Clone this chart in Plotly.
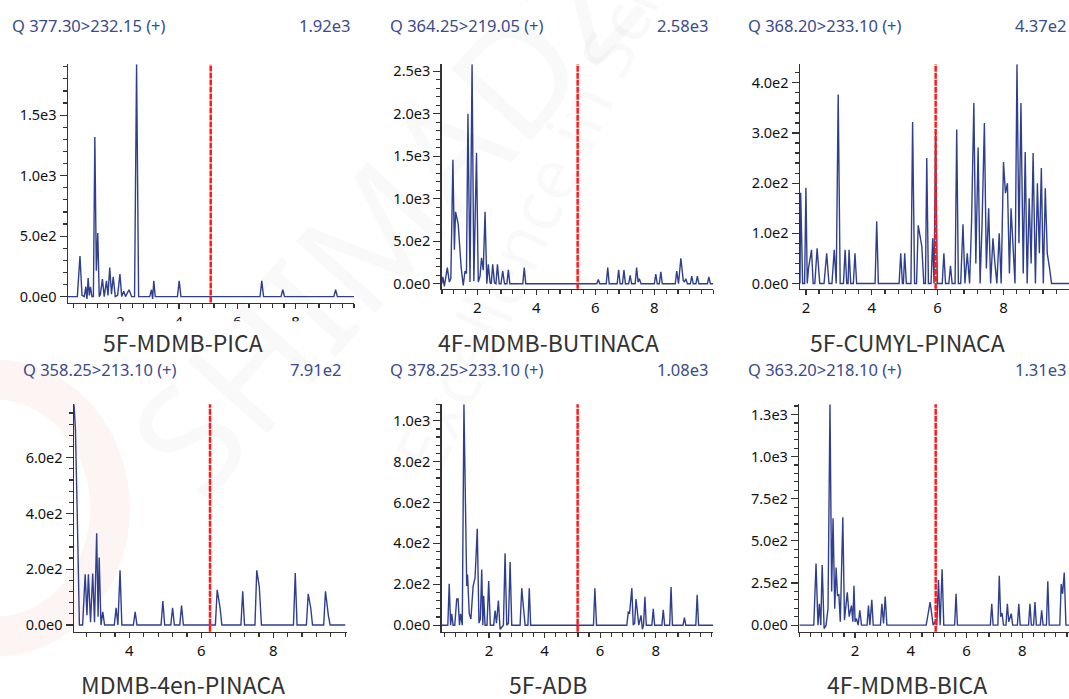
import plotly.graph_objects as go

# ---------------- data ----------------
names = ["5F-MDMB-PICA", "4F-MDMB-BUTINACA", "5F-CUMYL-PINACA",
         "MDMB-4en-PINACA", "5F-ADB", "4F-MDMB-BICA"]
transitions = ["Q 377.30>232.15 (+)", "Q 364.25>219.05 (+)", "Q 368.20>233.10 (+)",
               "Q 358.25>213.10 (+)", "Q 378.25>233.10 (+)", "Q 363.20>218.10 (+)"]
max_labels = ["1.92e3", "2.58e3", "4.37e2", "7.91e2", "1.08e3", "1.31e3"]
ret_times = [5.09, 5.40, 5.94, 6.24, 5.19, 4.89]

t1 = [0.20, 0.52, 0.61, 0.68, 0.76, 0.81, 0.85, 0.89, 0.93, 0.97, 1.02, 1.07, 1.12, 1.17, 1.22, 1.27,
      1.31, 1.38, 1.44, 1.52, 1.57, 1.63, 1.69, 1.75, 1.82, 1.90, 1.98, 2.04, 2.11, 2.17, 2.29, 2.38,
      2.48, 2.55, 2.62, 2.72, 3.00, 3.06, 3.10, 3.14, 3.19, 3.95, 4.01, 4.07, 6.78, 6.84, 6.90, 7.50,
      7.56, 7.62, 9.31, 9.37, 9.43, 10.0]
v1 = [0, 0, 336, 10, 0, 82, -20, 153, 10, 80, 0, 0, 1320, 213, 525, 0,
      20, 145, 0, 130, 10, 240, 20, 164, 0, 10, 186, 0, 45, 0, 57, 0,
      0, 1920, 0, 0, 0, 57, -20, 130, 0, 0, 130, 0, 0, 130, 0, 0,
      57, 0, 0, 57, 0, 0]

t2 = [0.79, 0.83, 0.88, 0.98, 1.05, 1.10, 1.17, 1.22, 1.26, 1.30, 1.35, 1.45, 1.52, 1.58, 1.63,
      1.68, 1.75, 1.82, 1.88, 1.97, 2.03, 2.09, 2.14, 2.20, 2.26, 2.32, 2.37, 2.43, 2.47, 2.52, 2.58,
      2.63, 2.68, 2.74, 2.80, 2.86, 2.92, 3.00, 3.05, 3.10, 3.54, 3.59, 3.64, 6.05, 6.10, 6.15, 6.37,
      6.42, 6.47, 6.74, 6.79, 6.84, 6.92, 6.97, 7.02, 7.13, 7.18, 7.23, 7.35, 7.40, 7.45, 7.49, 7.55,
      8.00, 8.05, 8.10, 8.17, 8.22, 8.27, 8.71, 8.76, 8.82, 8.90, 8.98, 9.02, 9.07, 9.12, 9.22, 9.27,
      9.32, 9.41, 9.46, 9.51, 9.80, 9.85, 9.90, 10.0]
v2 = [0, 80, -30, 190, 20, 60, 1458, 400, 845, 780, 700, 190, -20, 150, 120,
      2000, 20, 2580, 30, 1540, 20, 90, 305, 160, 845, 0, 228, 10, 0, 228, 10,
      0, 228, 0, 0, 150, 0, 0, 165, 0, 0, 190, 0, 0, 50, 0, 0,
      190, 0, 0, 165, 0, 0, 160, 0, 0, 100, 0, 0, 190, 20, 60, 0,
      0, 115, 0, 0, 140, 0, 0, 150, 0, 300, 40, 20, 60, 0, 0, 90,
      0, 0, 90, 0, 0, 80, 0, 0]

t3 = [1.82, 1.84, 1.90, 1.96, 2.00, 2.04, 2.08, 2.17, 2.22, 2.27, 2.34, 2.42, 2.55, 2.63, 2.70,
      2.79, 2.86, 2.92, 2.98, 3.04, 3.14, 3.19, 3.24, 3.28, 3.31, 3.36, 3.44, 3.49, 3.54, 4.10, 4.15,
      4.20, 4.83, 4.88, 4.93, 4.96, 5.00, 5.05, 5.19, 5.24, 5.30, 5.36, 5.41, 5.52, 5.58, 5.63, 5.67,
      5.72, 5.80, 5.85, 5.89, 5.94, 5.99, 6.14, 6.19, 6.24, 6.34, 6.39, 6.44, 6.53, 6.58, 6.63, 6.70,
      6.77, 6.83, 6.90, 6.97, 7.03, 7.10, 7.16, 7.23, 7.29, 7.35, 7.42, 7.48, 7.55, 7.61, 7.68, 7.74,
      7.80, 7.87, 7.93, 8.00, 8.06, 8.12, 8.18, 8.23, 8.29, 8.35, 8.41, 8.47, 8.53, 8.60, 8.66, 8.72,
      8.78, 8.84, 8.90, 8.97, 9.03, 9.09, 9.15, 9.21, 9.27, 9.33, 9.40, 9.46, 9.52, 9.99]
v3 = [0, 181, 0, 0, 191, 0, 31, 67, 0, 0, 70, 0, 0, 60, 0,
      0, 67, 0, 377, 0, 0, 67, 0, 0, 67, 0, 0, 60, 0, 0, 124,
      0, 0, 60, 0, 0, 60, 0, 0, 322, 0, 0, 116, 74, 0, 0, 250,
      0, 0, 90, 0, 300, 0, 0, 60, 0, 0, 35, 0, 0, 307, 0, 0,
      118, 0, 60, 0, 120, 360, 40, 271, 0, 120, 320, 30, 150, 0, 90, 40,
      0, 100, 0, 242, 180, 200, 20, 150, 60, 0, 437, 80, 360, 20, 262, 0,
      170, 40, 260, 0, 200, 60, 230, 0, 190, 60, 30, 0, 0, 0]

t4 = [2.46, 2.50, 2.55, 2.61, 2.70, 2.77, 2.82, 2.86, 2.92, 2.98, 3.03, 3.09, 3.13, 3.16, 3.21, 3.26,
      3.31, 3.58, 3.63, 3.68, 3.74, 3.79, 4.11, 4.16, 4.21, 4.88, 4.93, 4.98, 5.15, 5.20, 5.25, 5.40,
      5.45, 5.50, 6.39, 6.44, 6.52, 6.57, 7.10, 7.15, 7.20, 7.49, 7.54, 7.61, 7.67, 8.56, 8.61, 8.66,
      8.92, 8.97, 9.04, 9.09, 9.40, 9.45, 9.53, 9.58, 10.0]
v4 = [791, 700, 400, 0, 0, 182, 35, 182, 10, 185, 10, 329, 30, 242, 0, 47,
      0, 0, 62, 0, 196, 0, 0, 47, 0, 0, 86, 0, 0, 62, 0, 0,
      70, 0, 0, 126, 62, 0, 0, 121, 0, 0, 196, 138, 0, 0, 186, 0,
      0, 112, 62, 0, 0, 121, 35, 0, 0]

t5 = [0.30, 0.52, 0.57, 0.62, 0.66, 0.71, 0.77, 0.84, 0.89, 0.94, 0.98, 1.04, 1.10, 1.17, 1.20,
      1.23, 1.29, 1.35, 1.43, 1.50, 1.58, 1.64, 1.69, 1.74, 1.78, 1.81, 1.86, 1.93, 1.99, 2.05, 2.17,
      2.22, 2.27, 2.34, 2.40, 2.52, 2.58, 2.64, 2.70, 2.76, 2.82, 3.12, 3.18, 3.24, 3.30, 3.40, 3.45,
      3.50, 5.76, 5.81, 5.87, 6.96, 7.01, 7.06, 7.14, 7.19, 7.24, 7.29, 7.34, 7.39, 7.47, 7.52, 7.56,
      7.61, 7.66, 7.86, 7.91, 7.96, 8.22, 8.27, 8.32, 8.50, 8.55, 8.60, 8.98, 9.03, 9.08, 9.44, 9.49,
      9.54, 10.07]
v5 = [0, 0, 203, 0, 56, 0, 0, 128, 128, 0, 56, 0, 1080, 256, 192,
      248, 56, 30, 190, 232, 471, 10, 30, 272, 0, 144, 0, 0, 216, 0, 0,
      72, 10, 120, -20, 0, 352, 0, 10, 309, 0, 0, 181, 88, 0, 0, 181,
      0, 0, 181, 0, 0, 64, 60, 181, 0, 10, 128, 64, 0, 48, -20, 0,
      139, 0, 0, 80, 0, 0, 75, 0, 0, 187, 0, 0, 37, 0, 0, 149,
      0, 0]

t6 = [0.00, 0.52, 0.60, 0.67, 0.72, 0.77, 0.82, 0.89, 0.96, 1.03, 1.10, 1.16, 1.21, 1.27, 1.32,
      1.37, 1.42, 1.47, 1.56, 1.62, 1.72, 1.79, 1.87, 1.92, 1.96, 2.00, 2.05, 2.11, 2.17, 2.23, 2.43,
      2.48, 2.53, 2.60, 2.65, 2.91, 2.96, 3.02, 3.08, 3.14, 4.55, 4.69, 4.80, 4.86, 4.93, 4.99, 5.05,
      5.12, 5.18, 5.57, 5.62, 5.67, 6.85, 6.90, 6.95, 7.12, 7.17, 7.22, 7.27, 7.32, 7.41, 7.46, 7.51,
      7.60, 7.65, 7.82, 7.87, 7.92, 8.22, 8.27, 8.32, 8.40, 8.45, 8.50, 8.64, 8.69, 8.74, 8.86, 8.91,
      8.96, 9.34, 9.39, 9.44, 9.50, 9.56, 9.67]
v6 = [0, 0, 365, 0, 127, 0, 357, -20, 0, 100, 1310, 200, 634, 98, 342,
      176, 180, 20, 640, 30, 195, 50, 117, 20, 234, 20, 39, 0, 88, 0, 0,
      117, 0, 150, 0, 0, 127, 10, 170, 0, 0, 137, 0, 20, 0, 268, 0,
      332, 0, 0, 186, 0, 0, 127, 0, 0, 293, 50, 72, 0, 0, 127, 20,
      68, 0, 0, 127, 0, 0, 127, 0, 0, 137, 0, 0, 88, 0, 0, 260,
      0, 0, 244, 186, 312, 0, 0]

series_t = [t1, t2, t3, t4, t5, t6]
series_v = [v1, v2, v3, v4, v5, v6]

# ---------------- layout (pixel geometry) ----------------
W, H = 1069, 699
# plot boxes: left, right, top, bottom (px)
boxes = [(68, 354, 61, 302), (441.7, 713.3, 61, 288), (800, 1069, 61, 288),
         (74, 346.7, 405, 635), (441.7, 713.3, 405, 635), (799.3, 1069, 405, 635)]
x_ranges = [[0.20, 10.0], [0.79, 10.0], [1.82, 9.99], [2.46, 10.04], [0.30, 10.07], [0.0, 9.67]]
y_ranges = [[-49, 1920], [-58, 2580], [-10.5, 437], [-24, 791], [-32, 1080], [-39, 1310]]
y_ticks = [[0, 500, 1000, 1500], [0, 500, 1000, 1500, 2000, 2500], [0, 100, 200, 300, 400],
           [0, 200, 400, 600], [0, 200, 400, 600, 800, 1000], [0, 250, 500, 750, 1000, 1250]]
y_ticktext = [["0.0e0", "5.0e2", "1.0e3", "1.5e3"],
              ["0.0e0", "5.0e2", "1.0e3", "1.5e3", "2.0e3", "2.5e3"],
              ["0.0e0", "1.0e2", "2.0e2", "3.0e2", "4.0e2"],
              ["0.0e0", "2.0e2", "4.0e2", "6.0e2"],
              ["0.0e0", "2.0e2", "4.0e2", "6.0e2", "8.0e2", "1.0e3"],
              ["0.0e0", "2.5e2", "5.0e2", "7.5e2", "1.0e3", "1.3e3"]]
y_minor = [100, 100, 20, 40, 40, 50]
title_x = [(10, 352), (388, 710), (746, 1068), (21, 343), (388, 710), (746, 1068)]
title_y = [22, 22, 22, 370, 370, 370]
name_xy = [(183, 342), (548, 342), (907, 342), (183, 688), (548, 688), (907, 688)]

LINE = "#2f3f8f"
TXT = "#3b4b8c"
FONT = "Noto Sans"


def px(x):
    return x / W


def py(y):
    return 1 - y / H


fig = go.Figure()
shapes = []
annotations = []

# faint watermark
annotations.append(dict(text="SHIMADZU", x=px(420), y=py(175), xref="paper", yref="paper",
                        xanchor="center", yanchor="middle", showarrow=False, textangle=-48,
                        font=dict(family="Noto Sans", size=150, color="rgba(0,0,0,0.022)")))
annotations.append(dict(text="Excellence in Science", x=px(558), y=py(156), xref="paper", yref="paper",
                        xanchor="center", yanchor="middle", showarrow=False, textangle=-65,
                        font=dict(family="Noto Sans", size=70, color="rgba(0,0,0,0.025)")))
shapes.append(dict(type="circle", xref="paper", yref="paper", x0=px(-120), x1=px(110), y0=py(640),
                   y1=py(380), line=dict(color="rgba(220,0,0,0.045)", width=40), layer="below"))

for i in range(6):
    n = "" if i == 0 else str(i + 1)
    l, r, t, b = boxes[i]
    xa = dict(domain=[px(l), min(px(r), 1.0)], range=x_ranges[i], anchor="y" + n,
              showline=True, linecolor="#333333", linewidth=1.5, showgrid=False, zeroline=False,
              tickvals=[2, 4, 6, 8], ticktext=["2", "4", "6", "8"], ticks="outside", ticklen=5,
              tickcolor="#333333", tickwidth=1.2,
              tickfont=dict(family=FONT, size=15, color="#111111"),
              minor=dict(ticks="outside", dtick=0.4, tick0=0, ticklen=4, tickcolor="#333333", tickwidth=1.2))
    ya = dict(domain=[py(b), py(t)], range=y_ranges[i], anchor="x" + n,
              showline=True, linecolor="#333333", linewidth=1.5, showgrid=False, zeroline=False,
              tickvals=y_ticks[i], ticktext=y_ticktext[i], ticks="outside", ticklen=7,
              tickcolor="#333333", tickwidth=1.2,
              tickfont=dict(family=FONT, size=14.5, color="#111111"),
              minor=dict(ticks="outside", dtick=y_minor[i], tick0=0, ticklen=4, tickcolor="#333333",
                         tickwidth=1.2))
    fig.update_layout(**{"xaxis" + n: xa, "yaxis" + n: ya})
    fig.add_trace(go.Scatter(x=series_t[i], y=series_v[i], mode="lines", xaxis="x" + n, yaxis="y" + n,
                             line=dict(color=LINE, width=1.4), showlegend=False, hoverinfo="skip"))
    shapes.append(dict(type="line", xref="x" + n, yref="y" + n + " domain", x0=ret_times[i],
                       x1=ret_times[i], y0=0, y1=1, line=dict(color="#ff1a1a", width=2.5, dash="6px,1px"),
                       layer="above"))
    tx0, tx1 = title_x[i]
    annotations.append(dict(text=transitions[i], x=px(tx0), y=py(title_y[i]), xref="paper", yref="paper",
                            xanchor="left", yanchor="middle", showarrow=False,
                            font=dict(family=FONT, size=16.5, color=TXT)))
    annotations.append(dict(text=max_labels[i], x=px(tx1), y=py(title_y[i]), xref="paper", yref="paper",
                            xanchor="right", yanchor="middle", showarrow=False,
                            font=dict(family=FONT, size=16.5, color=TXT)))
    nx, ny = name_xy[i]
    annotations.append(dict(text=names[i], x=px(nx), y=py(ny), xref="paper", yref="paper",
                            xanchor="center", yanchor="middle", showarrow=False,
                            font=dict(family="Noto Sans CJK SC", size=23, color="#333333")))

# panel 1 tick labels are partly hidden under the name strip
shapes.append(dict(type="rect", xref="paper", yref="paper", x0=px(40), x1=px(365), y0=py(332), y1=py(321),
                   fillcolor="white", line=dict(width=0), layer="above"))

fig.update_layout(width=W, height=H, margin=dict(l=0, r=0, t=0, b=0), paper_bgcolor="white",
                  plot_bgcolor="rgba(0,0,0,0)", shapes=shapes, annotations=annotations, showlegend=False)
fig.write_html("out.html", config={"displayModeBar": False, "staticPlot": True},
               post_script="document.body.style.margin='0';document.body.style.overflow='hidden';")
